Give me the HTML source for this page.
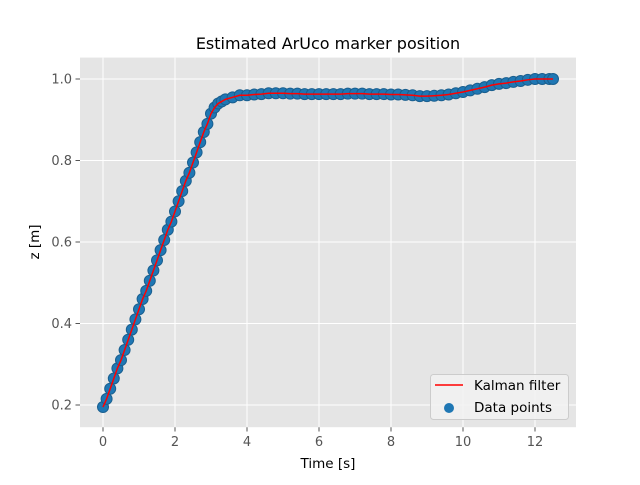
<!DOCTYPE html>
<html><head><meta charset="utf-8"><style>
body{margin:0;background:#fff;font-family:"Liberation Sans","DejaVu Sans",sans-serif}
svg text{font-family:"DejaVu Sans","Liberation Sans",sans-serif}
</style></head><body>
<svg id="chart" width="640" height="480" xmlns="http://www.w3.org/2000/svg">
<rect x="0" y="0" width="640" height="480" fill="#fff"/>
<rect x="80" y="57.6" width="496" height="369.6" fill="#E5E5E5"/>
<g id="grid"></g><g id="ticks"></g><g id="marks"></g>
<text x="328" y="49" text-anchor="middle" font-size="16" fill="#000">Estimated ArUco marker position</text>
<text x="328" y="468" text-anchor="middle" font-size="13.5" fill="#000">Time [s]</text>
<text transform="translate(39,242) rotate(-90)" text-anchor="middle" font-size="13.5" fill="#000">z [m]</text>
<g>
<rect x="430.5" y="374.5" width="138" height="45" rx="3" fill="#F2F2F2" fill-opacity="0.85" stroke="#ccc"/>
<line x1="435" y1="385" x2="463" y2="385" stroke="#ff0000" stroke-width="1.5"/>
<text x="474" y="390" font-size="13.5" fill="#000">Kalman filter</text>
<circle cx="449" cy="408" r="5" fill="#1f77b4"/>
<text x="474" y="412" font-size="13.5" fill="#000">Data points</text>
</g>
</svg>
<script>
const times=[0,0.1,0.2,0.3,0.4,0.5,0.6,0.7,0.8,0.9,1.0,1.1,1.2,1.3,1.4,1.5,1.6,1.7,1.8,1.9,2.0,2.1,2.2,2.3,2.4,2.5,2.6,2.7,2.8,2.9,3.0,3.1,3.2,3.3,3.4,
3.6,3.8,4.0,4.2,4.4,4.6,4.8,5.0,5.2,5.4,5.6,5.8,6.0,6.2,6.4,6.6,6.8,7.0,7.2,7.4,7.6,7.8,8.0,8.2,8.4,8.6,8.8,9.0,9.2,9.4,9.6,9.8,10.0,10.2,10.4,10.6,10.8,11.0,11.2,11.4,11.6,11.8,12.0,12.2,12.4,12.5];
const zValues=[0.195,0.215,0.24,0.265,0.29,0.31,0.335,0.36,0.385,0.41,0.435,0.46,0.48,0.505,0.53,0.555,0.58,0.605,0.63,0.65,0.675,0.70,0.725,0.75,0.77,0.795,0.82,0.845,0.87,0.89,0.915,0.93,0.94,0.945,0.95,
0.955,0.96,0.96,0.962,0.963,0.965,0.965,0.965,0.964,0.964,0.963,0.963,0.963,0.963,0.963,0.963,0.964,0.964,0.964,0.963,0.963,0.963,0.962,0.962,0.961,0.96,0.958,0.958,0.959,0.96,0.962,0.965,0.968,0.972,0.976,0.98,0.985,0.988,0.99,0.993,0.995,0.998,1.0,1.0,1.0,1.0];
const xTicks=[0,2,4,6,8,10,12];
const yTicks=[0.2,0.4,0.6,0.8,1.0];
const yTickLabels=["0.2","0.4","0.6","0.8","1.0"];
const NS="http://www.w3.org/2000/svg";
const X=v=>103+v*36;
const Y=v=>79+(1.0-v)*407.5;
function mk(tag,attrs,parent){const e=document.createElementNS(NS,tag);for(const k in attrs)e.setAttribute(k,attrs[k]);document.getElementById(parent).appendChild(e);return e;}
xTicks.forEach(t=>{
 const g=mk('line',{x1:X(t),x2:X(t),y1:57.6,y2:427.2,stroke:'#fff','stroke-width':1},'grid');
 
 
 const tk=mk('line',{x1:X(t),x2:X(t),y1:427.2,y2:431.5,stroke:'#555','stroke-width':1},'ticks');
 
 
 const l=mk('text',{x:X(t),y:446,'text-anchor':'middle','font-size':13,fill:'#555'},'ticks');
 l.textContent=String(t);
 
 
});
yTicks.forEach((t,i)=>{
 const g=mk('line',{x1:80,x2:576,y1:Y(t),y2:Y(t),stroke:'#fff','stroke-width':1},'grid');
 
 
 const tk=mk('line',{x1:75.5,x2:80,y1:Y(t),y2:Y(t),stroke:'#555','stroke-width':1},'ticks');
 
 
 const l=mk('text',{x:72,y:Y(t)+4.5,'text-anchor':'end','font-size':13,fill:'#555'},'ticks');
 l.textContent=yTickLabels[i];
 
 
});
times.forEach((t,i)=>{
 const c=mk('circle',{cx:X(t),cy:Y(zValues[i]),r:5.5,fill:'#1f77b4',stroke:'#1a5f8f','stroke-width':1},'marks');
 
 
});
const p=mk('polyline',{points:times.map((t,i)=>X(t)+','+Y(zValues[i])).join(' '),fill:'none',stroke:'#ff0000','stroke-width':1.5},'marks');


</script>
</body></html>
